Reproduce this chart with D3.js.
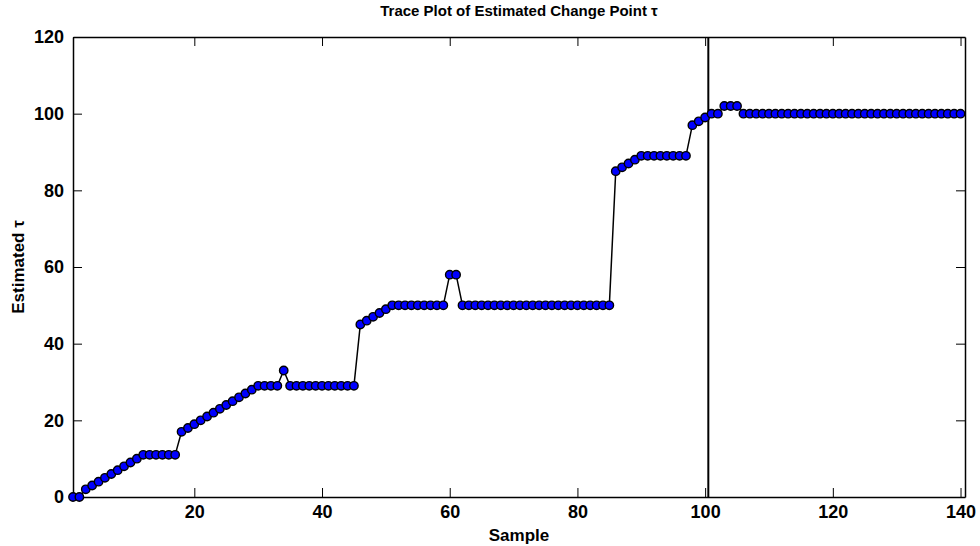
<!DOCTYPE html>
<html lang="en">
<head>
  <meta charset="UTF-8">
  <title>Trace Plot of Estimated Change Point</title>
  <script src="https://cdn.jsdelivr.net/npm/d3@7"></script>
  <style>
    body { margin: 0; background: #fff; }
    svg { font-family: "Liberation Sans", Arial, sans-serif; font-weight: bold; }
  </style>
</head>
<body>
  <svg width="980" height="546"></svg>
  <script>
    // estimated tau for each sample (samples 1..140)
    var tauValues = [
      0, 0, 2, 3, 4, 5, 6, 7, 8, 9,
      10, 11, 11, 11, 11, 11, 11, 17, 18, 19,
      20, 21, 22, 23, 24, 25, 26, 27, 28, 29,
      29, 29, 29, 33, 29, 29, 29, 29, 29, 29,
      29, 29, 29, 29, 29, 45, 46, 47, 48, 49,
      50, 50, 50, 50, 50, 50, 50, 50, 50, 58,
      58, 50, 50, 50, 50, 50, 50, 50, 50, 50,
      50, 50, 50, 50, 50, 50, 50, 50, 50, 50,
      50, 50, 50, 50, 50, 85, 86, 87, 88, 89,
      89, 89, 89, 89, 89, 89, 89, 97, 98, 99,
      100, 100, 102, 102, 102, 100, 100, 100, 100, 100,
      100, 100, 100, 100, 100, 100, 100, 100, 100, 100,
      100, 100, 100, 100, 100, 100, 100, 100, 100, 100,
      100, 100, 100, 100, 100, 100, 100, 100, 100, 100
    ];
    var samples = tauValues.map((d, i) => i + 1);
    var xTicks = [20, 40, 60, 80, 100, 120, 140];
    var yTicks = [0, 20, 40, 60, 80, 100, 120];
    var changePoint = 100.5;

    var svg = d3.select("svg");
    var plotLeft = 73, plotRight = 965, plotTop = 37, plotBottom = 497;

    var x = d3.scaleLinear().domain([1, 140.7]).range([plotLeft, plotRight]);
    var y = d3.scaleLinear().domain([0, 120]).range([plotBottom, plotTop]);

    var tickLen = 9;

    // bottom axis (ticks inside)
    var gx = svg.append("g")
      .attr("transform", "translate(0," + plotBottom + ")")
      .call(d3.axisBottom(x).tickValues(xTicks).tickSizeInner(-tickLen).tickSizeOuter(0).tickPadding(8));
    // left axis
    var gy = svg.append("g")
      .attr("transform", "translate(" + plotLeft + ",0)")
      .call(d3.axisLeft(y).tickValues(yTicks).tickSizeInner(-tickLen).tickSizeOuter(0).tickPadding(9));
    // top and right axes, ticks only
    var gt = svg.append("g")
      .attr("transform", "translate(0," + plotTop + ")")
      .call(d3.axisTop(x).tickValues(xTicks).tickSizeInner(-tickLen).tickSizeOuter(0).tickFormat(""));
    var gr = svg.append("g")
      .attr("transform", "translate(" + plotRight + ",0)")
      .call(d3.axisRight(y).tickValues(yTicks).tickSizeInner(-tickLen).tickSizeOuter(0).tickFormat(""));

    [gx, gy, gt, gr].forEach(g => {
      g.select(".domain").attr("stroke", "#000").attr("stroke-width", 1.5);
      g.selectAll(".tick line").attr("stroke", "#000").attr("stroke-width", 1);
      g.selectAll(".tick text")
        .attr("fill", "#000")
        .style("font-size", "18px")
        .style("font-weight", "bold")
        .style("font-family", "Liberation Sans, Arial, sans-serif");
    });

    // change point line
    svg.append("line")
      .attr("x1", x(changePoint)).attr("x2", x(changePoint))
      .attr("y1", y(120)).attr("y2", y(0))
      .attr("stroke", "#000").attr("stroke-width", 2);

    // trace line
    var line = d3.line()
      .x((d, i) => x(samples[i]))
      .y(d => y(d));
    svg.append("path")
      .datum(tauValues)
      .attr("d", line)
      .attr("fill", "none")
      .attr("stroke", "#000")
      .attr("stroke-width", 1.5);

    // markers
    svg.selectAll(".marker")
      .data(tauValues)
      .enter()
      .append("circle")
      .attr("class", "marker")
      .attr("cx", (d, i) => x(samples[i]))
      .attr("cy", d => y(d))
      .attr("r", 4.2)
      .attr("fill", "#0000ff")
      .attr("stroke", "#000")
      .attr("stroke-width", 1.4);

    // title and labels
    svg.append("text")
      .attr("x", (plotLeft + plotRight) / 2)
      .attr("y", 16)
      .attr("text-anchor", "middle")
      .style("font-size", "15px")
      .text("Trace Plot of Estimated Change Point τ");

    svg.append("text")
      .attr("x", (plotLeft + plotRight) / 2)
      .attr("y", 541)
      .attr("text-anchor", "middle")
      .style("font-size", "17px")
      .text("Sample");

    svg.append("text")
      .attr("transform", "translate(24," + (plotTop + plotBottom) / 2 + ") rotate(-90)")
      .attr("text-anchor", "middle")
      .style("font-size", "17px")
      .text("Estimated τ");
  </script>
</body>
</html>
